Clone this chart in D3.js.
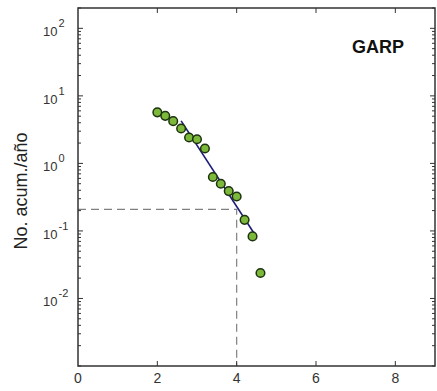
<!DOCTYPE html>
<html>
<head>
<meta charset="utf-8">
<script src="https://cdn.jsdelivr.net/npm/d3@7/dist/d3.min.js"></script>
<style>
  body { margin: 0; background: #fff; }
  svg { display: block; font-family: "Liberation Sans", Arial, sans-serif; }
</style>
</head>
<body>
<svg width="437" height="391"></svg>
<script>
var width = 437;
var height = 391;

// data
var magnitudes = [2.0, 2.2, 2.4, 2.6, 2.8, 3.0, 3.2, 3.4, 3.6, 3.8, 4.0, 4.2, 4.4, 4.6];
var rates = [5.7, 5.06, 4.22, 3.29, 2.42, 2.28, 1.66, 0.628, 0.50, 0.389, 0.324, 0.146, 0.083, 0.0238];
var fitX = [2.6, 4.45];
var fitY = [4.27, 0.09];
var refX = 4;
var refY = 0.208;
var xTicks = [0, 2, 4, 6, 8];
var yMajor = [1e-2, 1e-1, 1, 10, 100];
var yExp = ["-2", "-1", "0", "1", "2"];

var svg = d3.select("svg");

var x = d3.scaleLinear().domain([0, 9]).range([78, 435]);
var y = d3.scaleLog().domain([1e-3, 200]).range([366, 8]);

var axisColor = "#333";

// dashed reference lines
svg.append("path")
    .attr("d", d3.line()([[x(0), y(refY)], [x(refX), y(refY)], [x(refX), y(1e-3)]]))
    .attr("fill", "none")
    .attr("stroke", "#808080")
    .attr("stroke-width", 1.2)
    .attr("stroke-dasharray", "8,5");

// ticks
var minor = y.ticks().filter(function(d){ return yMajor.indexOf(d) < 0; });

function yTicks(g, side){
    var x0 = side == "left" ? x(0) : x(9);
    var dir = side == "left" ? 1 : -1;
    g.selectAll(".mn").data(minor).enter().append("line")
        .attr("x1", x0).attr("x2", x0 + dir*3)
        .attr("y1", function(d){ return y(d); })
        .attr("y2", function(d){ return y(d); });
    g.selectAll(".mj").data(yMajor).enter().append("line")
        .attr("x1", x0).attr("x2", x0 + dir*5)
        .attr("y1", function(d){ return y(d); })
        .attr("y2", function(d){ return y(d); });
}
var tk = svg.append("g").attr("stroke", axisColor).attr("stroke-width", 1);
yTicks(tk, "left");
yTicks(tk, "right");
tk.selectAll(".xb").data(xTicks.slice(1)).enter().append("line")
    .attr("x1", function(d){ return x(d); }).attr("x2", function(d){ return x(d); })
    .attr("y1", y(1e-3)).attr("y2", y(1e-3) - 5);
tk.selectAll(".xt").data(xTicks.slice(1)).enter().append("line")
    .attr("x1", function(d){ return x(d); }).attr("x2", function(d){ return x(d); })
    .attr("y1", y(200)).attr("y2", y(200) + 5);

// frame
svg.append("rect")
    .attr("x", x(0)).attr("y", y(200))
    .attr("width", x(9) - x(0)).attr("height", y(1e-3) - y(200))
    .attr("fill", "none")
    .attr("stroke", axisColor)
    .attr("stroke-width", 1.5);

// tick labels
svg.selectAll(".xl").data(xTicks).enter().append("text")
    .attr("x", function(d){ return x(d); })
    .attr("y", 383)
    .attr("text-anchor", "middle")
    .attr("font-size", 14)
    .attr("fill", axisColor)
    .text(function(d){ return d; });

var yl = svg.selectAll(".yl").data(yMajor).enter().append("text")
    .attr("x", 43)
    .attr("y", function(d){ return y(d) + 8; })
    .attr("font-size", 13)
    .attr("fill", axisColor);
yl.append("tspan").text("10");
yl.append("tspan")
    .attr("font-size", 11)
    .attr("dy", -9)
    .attr("dx", 1)
    .text(function(d, i){ return yExp[i]; });

// axis title
svg.append("text")
    .attr("transform", "translate(27," + 191 + ") rotate(-90)")
    .attr("text-anchor", "middle")
    .attr("font-size", 18)
    .attr("fill", "#222")
    .text("No. acum./año");

// fit line
svg.append("line")
    .attr("x1", x(fitX[0])).attr("y1", y(fitY[0]))
    .attr("x2", x(fitX[1])).attr("y2", y(fitY[1]))
    .attr("stroke", "#1c1c78")
    .attr("stroke-width", 1.6);

// points
svg.selectAll(".pt").data(magnitudes).enter().append("circle")
    .attr("cx", function(d){ return x(d); })
    .attr("cy", function(d, i){ return y(rates[i]); })
    .attr("r", 4.3)
    .attr("fill", "#7cb83a")
    .attr("stroke", "#1d3310")
    .attr("stroke-width", 1.5);

// label
svg.append("text")
    .attr("x", 352)
    .attr("y", 53)
    .attr("font-size", 18)
    .attr("font-weight", "bold")
    .attr("fill", "#111")
    .text("GARP");
</script>
</body>
</html>
